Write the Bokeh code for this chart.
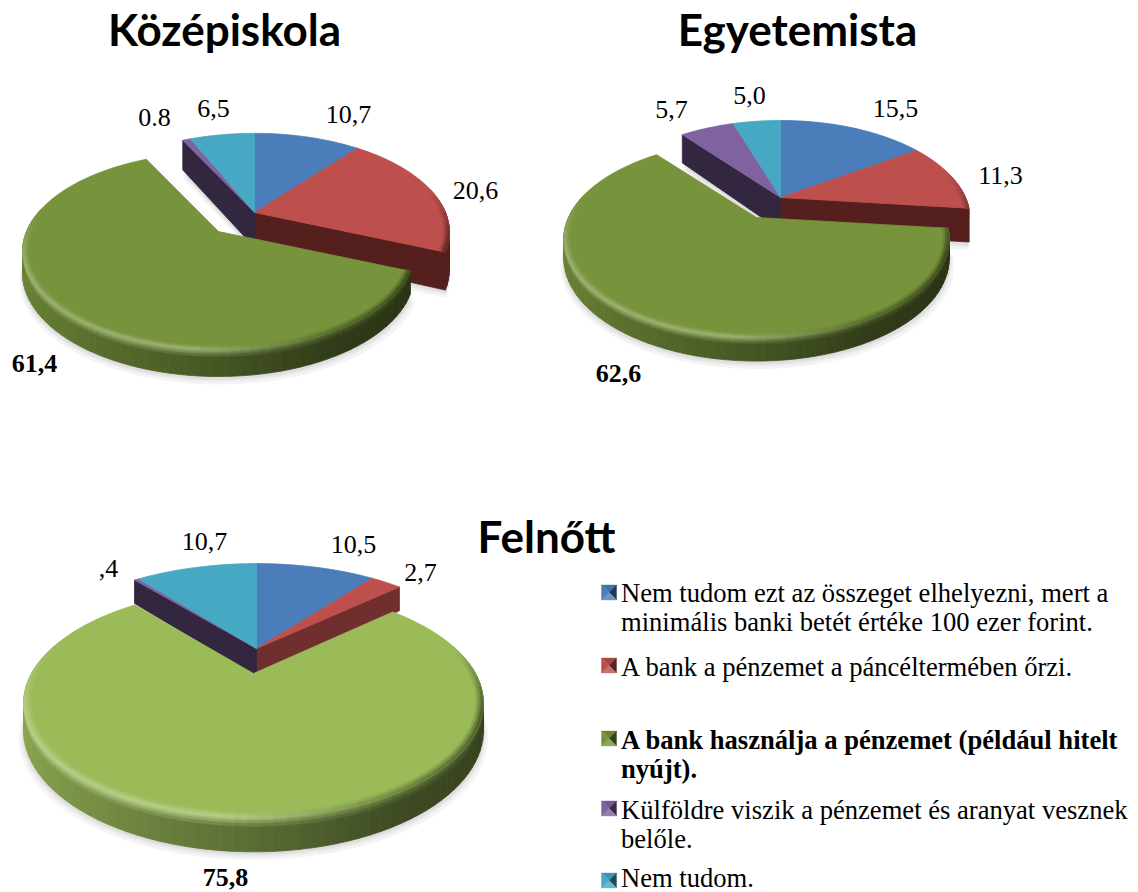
import math
from bokeh.plotting import figure
from bokeh.models import Range1d
from bokeh.core.properties import value
from bokeh.embed import file_html
from bokeh.resources import INLINE

# ---- data ----
series_names = ["Nem tudom ezt az összeget elhelyezni, mert a minimális banki betét értéke 100 ezer forint.",
                "A bank a pénzemet a páncéltermében őrzi.",
                "A bank használja a pénzemet (például hitelt nyújt).",
                "Külföldre viszik a pénzemet és aranyat vesznek belőle.",
                "Nem tudom."]
kozepiskola = [10.7, 20.6, 61.4, 0.8, 6.5]
egyetemista = [15.5, 11.3, 62.6, 5.7, 5.0]
felnott = [10.5, 2.7, 75.8, 0.4, 10.7]
labels_kozep = ["10,7", "20,6", "61,4", "0.8", "6,5"]
labels_egyet = ["15,5", "11,3", "62,6", "5,7", "5,0"]
labels_feln = ["10,5", "2,7", "75,8", ",4", "10,7"]
titles = ["Középiskola", "Egyetemista", "Felnőtt"]
legend_lines = [
    ["Nem tudom ezt az összeget elhelyezni, mert a", "minimális banki betét értéke 100 ezer forint."],
    ["A bank a pénzemet a páncéltermében őrzi."],
    ["A bank használja a pénzemet (például hitelt", "nyújt)."],
    ["Külföldre viszik a pénzemet és aranyat vesznek", "belőle."],
    ["Nem tudom."],
]

# ---- styles ----
BLUE, RED, PURPLE, TEAL = "#4a7db9", "#bd4f4c", "#8062a0", "#47a8c4"
GREEN_DK, GREEN_LT = "#77933c", "#9bbb59"
SERIF = value("Liberation Serif")
LABEL_PX = value("26px")


def rgb(c):
    return tuple(int(c[i:i + 2], 16) for i in (1, 3, 5))


def mix(a, b, t):
    t = max(0.0, min(1.0, t))
    ra, rb = rgb(a), rgb(b)
    return "#%02x%02x%02x" % tuple(round(x + (y - x) * t) for x, y in zip(ra, rb))


def wall_colour(base, u):
    if u < 0:
        return mix(mix(base, "#000000", 0.10), mix(base, "#000000", 0.42), u + 1)
    if u < 0.5:
        return mix(mix(base, "#000000", 0.42), mix(base, "#000000", 0.60), u / 0.5)
    return mix(mix(base, "#000000", 0.60), mix(base, "#000000", 0.66), (u - 0.5) / 0.5)


def rim_colour(base, u, v):
    if u < -0.1:
        c = mix(base, "#ffffff", 0.30)
    elif u < 0.5:
        c = mix(mix(base, "#ffffff", 0.30), mix(base, "#000000", 0.30), (u + 0.1) / 0.6)
    else:
        c = mix(mix(base, "#000000", 0.30), mix(base, "#000000", 0.60), (u - 0.5) / 0.5)
    return mix(base, c, (0.25 - v) / 0.6)


p = figure(width=1138, height=892, x_range=Range1d(0, 1138), y_range=Range1d(892, 0),
           x_axis_type=None, y_axis_type=None, toolbar_location=None, output_backend="svg",
           min_border=0, outline_line_color=None, background_fill_color="#ffffff")


def draw_pie(values, colours, radial, geo):
    total = sum(values)
    xs, ys, cols = [], [], []
    sx, sy = [], []

    def add(store, pts, c):
        store.append(([q[0] for q in pts], [q[1] for q in pts], c))

    cum = 0.0
    slices = []
    for i, val in enumerate(values):
        a0 = cum / total * 2 * math.pi
        cum += val
        a1 = cum / total * 2 * math.pi
        slices.append((i, a0, a1))

    def proj(cx, cy, rx, h, u, v, z=0.0):
        f = 1 / (1 + geo["k"] * v)
        return (cx + rx * u * f, cy - geo["a"] * v * f + h * z * f)

    def slice_parts(i, a0, a1, w_store, t_store):
        cx, cy = geo["apex"] if i == 2 else geo["center"]
        rx = geo["rx_green"] if i == 2 else geo["rx"]
        h = geo["h"] if i == 2 else geo["h_rest"]
        base = colours[i]
        n = max(2, int((a1 - a0) / math.radians(2.5)) + 1)
        angs = [a0 + (a1 - a0) * j / n for j in range(n + 1)]
        for j in range(n):
            m = (angs[j] + angs[j + 1]) / 2
            um, vm = math.sin(m), math.cos(m)
            if vm > 0.1:
                continue  # the back of the rim faces away from the viewer
            u0, v0, u1, v1 = math.sin(angs[j]), math.cos(angs[j]), math.sin(angs[j + 1]), math.cos(angs[j + 1])
            wall = wall_colour(base, um) if i != 1 else radial[1]
            rim = rim_colour(base, um, vm)
            for z0, z1, t in ((0, .08, .2), (.08, .16, .45), (.16, .26, .75), (.26, 1, 1)):
                add(w_store, [proj(cx, cy, rx, h, u0, v0, z0), proj(cx, cy, rx, h, u1, v1, z0),
                              proj(cx, cy, rx, h, u1, v1, z1), proj(cx, cy, rx, h, u0, v0, z1)], mix(rim, wall, t))
        # the radial walls that border the pulled-out green slice
        wall_angle = {1: a1, 3: a0}.get(i)
        if wall_angle is not None:
            u, v = math.sin(wall_angle), math.cos(wall_angle)
            add(w_store, [proj(cx, cy, rx, h, 0, 0), proj(cx, cy, rx, h, u, v),
                          proj(cx, cy, rx, h, u, v, 1), proj(cx, cy, rx, h, 0, 0, 1)], radial[i])
        add(t_store, [proj(cx, cy, rx, h, 0, 0)] + [proj(cx, cy, rx, h, math.sin(t), math.cos(t)) for t in angs], base)
        for b in range(3):
            r0, r1 = 1 - 0.03 * (3 - b) / 3, 1 - 0.03 * (2 - b) / 3
            for j in range(n):
                m = (angs[j] + angs[j + 1]) / 2
                um, vm = math.sin(m), math.cos(m)
                if vm > 0.25:
                    continue
                u0, v0, u1, v1 = math.sin(angs[j]), math.cos(angs[j]), math.sin(angs[j + 1]), math.cos(angs[j + 1])
                col = mix(base, rim_colour(base, um, vm), (b + 0.6) / 3)
                add(t_store, [proj(cx, cy, rx, h, u0 * r0, v0 * r0), proj(cx, cy, rx, h, u1 * r0, v1 * r0),
                              proj(cx, cy, rx, h, u1 * r1, v1 * r1), proj(cx, cy, rx, h, u0 * r1, v0 * r1)], col)
        bx = [proj(cx, cy, rx, h, 0, 0, 1)[0]] + [proj(cx, cy, rx, h, math.sin(t), math.cos(t), 1)[0] for t in angs]
        by = [proj(cx, cy, rx, h, 0, 0, 1)[1]] + [proj(cx, cy, rx, h, math.sin(t), math.cos(t), 1)[1] for t in angs]
        sx.append(bx)
        sy.append(by)

    rest_w, rest_t, green_w, green_t = [], [], [], []
    for i, a0, a1 in slices:
        if i == 2:
            slice_parts(i, a0, a1, green_w, green_t)
        else:
            slice_parts(i, a0, a1, rest_w, rest_t)

    for dy, grow in ((8, 4), (5, 2), (3, 1)):
        gx = []
        gy = []
        for px, py in zip(sx, sy):
            mid = sum(px) / len(px)
            gx.append([mid + (q - mid) * (1 + grow / 200) for q in px])
            gy.append([q + dy for q in py])
        p.patches(gx, gy, fill_color="#000000", fill_alpha=0.045, line_color=None)

    for store in (rest_w, rest_t, green_w, green_t):
        xs.extend(s[0] for s in store)
        ys.extend(s[1] for s in store)
        cols.extend(s[2] for s in store)
    p.patches(xs, ys, fill_color=cols, line_color=cols, line_width=0.8)


def colour_set(green):
    return [BLUE, RED, green, PURPLE, TEAL]


draw_pie(kozepiskola, colour_set(GREEN_DK), ["#3b5a85", "#541f1c", "#3d4d1c", "#33263f", "#2d6a7c"],
         dict(center=(254, 212), apex=(218, 231), rx=191, rx_green=192, k=0.20, a=95, h=21, h_rest=35))
draw_pie(egyetemista, colour_set(GREEN_DK), ["#3b5a85", "#541f1c", "#3d4d1c", "#33263f", "#2d6a7c"],
         dict(center=(780, 197), apex=(756, 217), rx=185, rx_green=188, k=0.22, a=94, h=18, h_rest=33))
draw_pie(felnott, colour_set(GREEN_LT), ["#3b5a85", "#702e2e", "#4d6128", "#33263f", "#2d6a7c"],
         dict(center=(256, 648), apex=(253, 673), rx=228, rx_green=222, k=0.26, a=107, h=25, h_rest=28))

# titles
p.text([224, 797, 546], [28, 28, 535], text=titles, text_font=value("Lato"), text_font_style="bold",
       text_font_size=value("44px"), text_align="center", text_baseline="middle", text_color="#000000")

# data labels
lab_x = [348, 475, 154, 213, 895, 1000, 671, 749, 353, 420, 108, 204]
lab_y = [114, 190, 117, 108, 108, 175, 109, 95, 544, 572, 568, 541]
lab_t = [labels_kozep[0], labels_kozep[1], labels_kozep[3], labels_kozep[4],
         labels_egyet[0], labels_egyet[1], labels_egyet[3], labels_egyet[4],
         labels_feln[0], labels_feln[1], labels_feln[3], labels_feln[4]]
p.text(lab_x, lab_y, text=lab_t, text_font=SERIF, text_font_size=LABEL_PX,
       text_align="center", text_baseline="middle", text_color="#000000")
p.text([34, 618, 225], [363, 373, 877], text=[labels_kozep[2], labels_egyet[2], labels_feln[2]],
       text_font=SERIF, text_font_style="bold", text_font_size=LABEL_PX,
       text_align="center", text_baseline="middle", text_color="#000000")

# legend
leg_y = [[592, 621], [666], [739, 768], [809, 838], [877]]
mark_y = [592, 665, 738, 808, 880]
leg_cols = [BLUE, RED, GREEN_DK, PURPLE, TEAL]
for i, (lines, ly) in enumerate(zip(legend_lines, leg_y)):
    p.text([620.5] * len(lines), ly, text=lines, text_font=SERIF, text_font_size=value("26.6px"),
           text_font_style="bold" if i == 2 else "normal",
           text_align="left", text_baseline="middle", text_color="#000000")
    cx, cy, s = 608.5, mark_y[i], 7.5
    base = leg_cols[i]
    tx = [[cx - s, cx + s, cx], [cx + s, cx + s, cx], [cx + s, cx - s, cx], [cx - s, cx - s, cx]]
    ty = [[cy - s, cy - s, cy], [cy - s, cy + s, cy], [cy + s, cy + s, cy], [cy + s, cy - s, cy]]
    tc = [mix(base, "#000000", 0.10), mix(base, "#000000", 0.55), mix(base, "#ffffff", 0.18), base]
    p.patches(tx, ty, fill_color=tc, line_color=tc, line_width=0.4)

open("out.html", "w").write(file_html(p, INLINE))
